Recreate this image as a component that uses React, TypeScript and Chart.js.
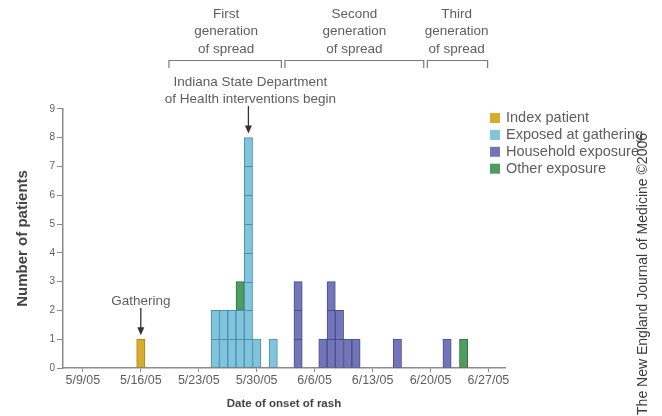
import React, { useEffect, useRef } from 'react';
import { Chart, registerables } from 'chart.js';

Chart.register(...registerables);

const FONT = '"Liberation Sans", Arial, sans-serif';

// x-axis tick labels (dates, weekly)
const tickLabels = ['5/9/05', '5/16/05', '5/23/05', '5/30/05', '6/6/05', '6/13/05', '6/20/05', '6/27/05'];

// series
const seriesNames = ['Index patient', 'Exposed at gathering', 'Household exposure', 'Other exposure'];

const indexDates = ['5/16/05'];
const indexCounts = [1];

const gatheringDates = ['5/25/05', '5/26/05', '5/27/05', '5/28/05', '5/29/05', '5/30/05', '6/1/05'];
const gatheringCounts = [2, 2, 2, 2, 8, 1, 1];

const householdDates = ['6/4/05', '6/7/05', '6/8/05', '6/9/05', '6/10/05', '6/11/05', '6/16/05', '6/22/05'];
const householdCounts = [3, 1, 3, 2, 1, 1, 1, 1];

const otherDates = ['5/28/05', '6/24/05'];
const otherCounts = [1, 1];

const fillColors = ['#d7ab2b', '#80c4de', '#7276b9', '#4f9c5f'];
const edgeColors = ['#a98418', '#4d8fab', '#4a4e8e', '#336f43'];

// annotation text
const generationNames = ['First', 'Second', 'Third'];
const generationBounds = [10.4, 24.2, 41.4, 48.9]; // in days from 5/9/05
const interventionDate = '5/29/05';
const interventionLines = ['Indiana State Department', 'of Health interventions begin'];
const gatheringDate = '5/16/05';
const gatheringLabel = 'Gathering';
const watermark = 'The New England Journal of Medicine \u00A92006';

function dayNum(s: string): number {
  const [m, d, y] = s.split('/').map(Number);
  return Math.round((Date.UTC(2000 + y, m - 1, d) - Date.UTC(2005, 4, 9)) / 86400000);
}

function toPoints(dates: string[], counts: number[]) {
  return dates.map((d, i) => ({ x: dayNum(d), y: counts[i] }));
}

const unitLinesPlugin = {
  id: 'unitLines',
  afterDatasetsDraw(chart: any) {
    const ctx = chart.ctx;
    const ys = chart.scales.y;
    ctx.save();
    chart.data.datasets.forEach((ds: any, i: number) => {
      const meta = chart.getDatasetMeta(i);
      meta.data.forEach((bar: any) => {
        const { x, y, base, width } = bar.getProps(['x', 'y', 'base', 'width'], true);
        const top = Math.min(y, base);
        const bottom = Math.max(y, base);
        ctx.strokeStyle = ds.borderColor;
        ctx.lineWidth = 1;
        for (let v = 1; v <= 9; v++) {
          const p = ys.getPixelForValue(v);
          if (p > top + 1 && p < bottom - 1) {
            ctx.beginPath();
            ctx.moveTo(x - width / 2, Math.round(p) + 0.5);
            ctx.lineTo(x + width / 2, Math.round(p) + 0.5);
            ctx.stroke();
          }
        }
      });
    });
    ctx.restore();
  },
};

function arrow(ctx: CanvasRenderingContext2D, x: number, y1: number, y2: number) {
  ctx.beginPath();
  ctx.moveTo(x, y1);
  ctx.lineTo(x, y2 - 6);
  ctx.stroke();
  ctx.beginPath();
  ctx.moveTo(x - 3.5, y2 - 8);
  ctx.lineTo(x + 3.5, y2 - 8);
  ctx.lineTo(x, y2);
  ctx.closePath();
  ctx.fill();
}

const annotationPlugin = {
  id: 'annotations',
  afterDraw(chart: any) {
    const ctx = chart.ctx as CanvasRenderingContext2D;
    const xs = chart.scales.x;
    const ys = chart.scales.y;
    const textColor = '#5e5e5e';
    ctx.save();

    // generation labels and brackets
    ctx.font = `13.5px ${FONT}`;
    ctx.fillStyle = textColor;
    ctx.textAlign = 'center';
    ctx.textBaseline = 'middle';
    ctx.strokeStyle = '#7a7a7a';
    ctx.lineWidth = 1.2;
    generationNames.forEach((name, i) => {
      const a = xs.getPixelForValue(generationBounds[i]);
      const b = xs.getPixelForValue(generationBounds[i + 1]);
      const cx = (a + b) / 2;
      [name, 'generation', 'of spread'].forEach((line, j) => ctx.fillText(line, cx, 14 + j * 17.5));
      const l = i === 0 ? a : a + 1.8;
      const r = i === generationNames.length - 1 ? b : b - 1.8;
      ctx.beginPath();
      ctx.moveTo(l, 68);
      ctx.lineTo(l, 60.5);
      ctx.lineTo(r, 60.5);
      ctx.lineTo(r, 68);
      ctx.stroke();
    });

    // interventions arrow
    const ix = xs.getPixelForValue(dayNum(interventionDate));
    ctx.font = `13.5px ${FONT}`;
    interventionLines.forEach((line, j) => ctx.fillText(line, ix + 2, 82 + j * 17.5));
    ctx.strokeStyle = '#333';
    ctx.fillStyle = '#333';
    ctx.lineWidth = 1.3;
    const interventionTop = ys.getPixelForValue(gatheringCounts[gatheringDates.indexOf(interventionDate)]);
    arrow(ctx, ix, 106, interventionTop - 4);

    // gathering arrow
    const gx = xs.getPixelForValue(dayNum(gatheringDate));
    ctx.fillStyle = textColor;
    ctx.font = `13.5px ${FONT}`;
    ctx.fillText(gatheringLabel, gx, 301);
    ctx.fillStyle = '#333';
    const gTop = ys.getPixelForValue(indexCounts[0]);
    arrow(ctx, gx, 308, gTop - 4);

    // legend
    ctx.font = `14.5px ${FONT}`;
    ctx.textAlign = 'left';
    chart.data.datasets.forEach((ds: any, i: number) => {
      const cy = 118 + i * 16.9;
      ctx.fillStyle = ds.backgroundColor;
      ctx.fillRect(490, cy - 5, 10, 10);
      ctx.fillStyle = textColor;
      ctx.fillText(ds.label, 506, cy);
    });

    // watermark
    ctx.save();
    ctx.translate(643, 133);
    ctx.rotate(-Math.PI / 2);
    ctx.font = `14px ${FONT}`;
    ctx.fillStyle = '#3a3a3a';
    ctx.textAlign = 'right';
    ctx.textBaseline = 'middle';
    ctx.fillText(watermark, 0, 0);
    ctx.restore();

    ctx.restore();
  },
};

export default function App() {
  const canvasRef = useRef<HTMLCanvasElement | null>(null);

  useEffect(() => {
    if (!canvasRef.current) return;
    const seriesData = [
      toPoints(indexDates, indexCounts),
      toPoints(gatheringDates, gatheringCounts),
      toPoints(householdDates, householdCounts),
      toPoints(otherDates, otherCounts),
    ];
    const chart = new Chart(canvasRef.current, {
      type: 'bar',
      data: {
        datasets: seriesNames.map((name, i) => ({
          label: name,
          data: seriesData[i],
          backgroundColor: fillColors[i],
          borderColor: edgeColors[i],
          borderWidth: 1,
          borderSkipped: false,
          barPercentage: 1,
          categoryPercentage: 1,
        })),
      },
      options: {
        responsive: false,
        animation: false,
        devicePixelRatio: 1,
        layout: { padding: { top: 108.8, right: 157, bottom: 0, left: 0 } },
        plugins: { legend: { display: false }, tooltip: { enabled: false } },
        scales: {
          x: {
            type: 'linear',
            min: -2.4,
            max: 51,
            offset: false,
            stacked: true,
            afterBuildTicks: (s: any) => {
              s.ticks = tickLabels.map((l) => ({ value: dayNum(l) }));
            },
            afterFit: (s: any) => {
              s.height = 48;
            },
            ticks: {
              autoSkip: false,
              maxRotation: 0,
              padding: 1,
              color: '#5e5e5e',
              font: { family: FONT, size: 12.5 },
              callback: (_v: any, i: number) => tickLabels[i],
            },
            grid: { display: true, offset: false, drawOnChartArea: false, drawTicks: true, tickLength: 4, color: '#8a8a8a' },
            border: { display: true, color: '#8a8a8a', width: 1.5 },
            title: {
              display: true,
              text: 'Date of onset of rash',
              color: '#444',
              font: { family: FONT, size: 11.5, weight: 'bold' },
              padding: { top: 0, bottom: 5 },
            },
          },
          y: {
            min: 0,
            max: 9,
            stacked: true,
            afterFit: (s: any) => {
              s.width = 63;
            },
            ticks: {
              stepSize: 1,
              padding: 2,
              color: '#5e5e5e',
              font: { family: FONT, size: 10 },
            },
            grid: { display: true, drawOnChartArea: false, drawTicks: true, tickLength: 6, color: '#8a8a8a' },
            border: { display: true, color: '#8a8a8a', width: 1.5 },
            title: {
              display: true,
              text: 'Number of patients',
              color: '#444',
              font: { family: FONT, size: 15, weight: 'bold' },
              padding: { top: 14, bottom: 0 },
            },
          },
        },
      } as any,
      plugins: [unitLinesPlugin, annotationPlugin],
    });
    return () => chart.destroy();
  }, []);

  return (
    <div style={{ position: 'fixed', left: 0, top: 0, width: 662, height: 416, background: '#fff' }}>
      <canvas ref={canvasRef} width={662} height={416} style={{ display: 'block' }} />
    </div>
  );
}
